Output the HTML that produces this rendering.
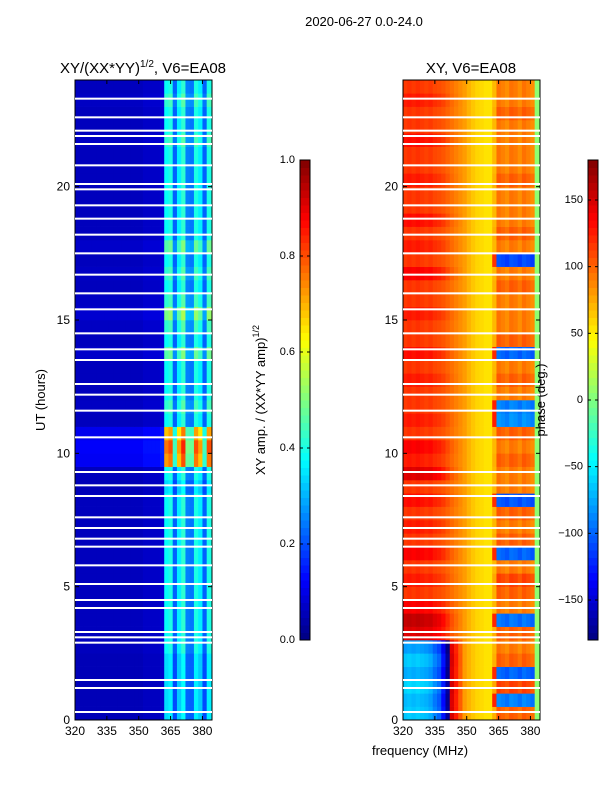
<!DOCTYPE html>
<html><head><meta charset="utf-8">
<style>
body{margin:0;background:#fff;}
svg text{font-family:"Liberation Sans","DejaVu Sans",sans-serif;}
</style></head>
<body>
<svg id="fig" width="600" height="800" xmlns="http://www.w3.org/2000/svg">
<rect width="600" height="800" fill="#fff"/>
<text x="364" y="26" font-size="13" text-anchor="middle">2020-06-27 0.0-24.0</text>
<text x="143" y="73" font-size="15" text-anchor="middle">XY/(XX*YY)<tspan font-size="10" dy="-6">1/2</tspan><tspan dy="6">, V6=EA08</tspan></text>
<text x="471" y="73" font-size="15" text-anchor="middle">XY, V6=EA08</text>
<g id="left"></g>
<g id="right"></g>
<g id="axes"></g>
<text transform="translate(45,400) rotate(-90)" font-size="13" text-anchor="middle">UT (hours)</text>
<text x="420" y="755" font-size="13" text-anchor="middle">frequency (MHz)</text>
<text transform="translate(265,400) rotate(-90)" font-size="13" text-anchor="middle">XY amp. / (XX*YY amp)<tspan font-size="9" dy="-6">1/2</tspan></text>
<text transform="translate(545,400) rotate(-90)" font-size="13" text-anchor="middle">phase (deg.)</text>
</svg>
<script>
const freqs=[320,322,324,326,328,330,332,334,336,338,340,342,344,346,348,350,352,354,356,358,360,362,364,366,368,370,372,374,376,378,380,382];
const colAmp=[0.06,0.06,0.06,0.06,0.06,0.06,0.06,0.06,0.06,0.06,0.06,0.06,0.06,0.06,0.06,0.06,0.07,0.07,0.07,0.07,0.08,0.38,0.4,0.22,0.36,0.42,0.25,0.24,0.4,0.36,0.22,0.4];
const rowAmp=[0.9,0.9,0.9,0.9,0.9,1,1,1,1,1,1,1,1,1,1,1,1,0.9,1,1.9,2.0,1.8,1,1.1,1,1,1,1.2,1,1.1,1.3,1.1,1,1.1,1,1.2,1,1,1,1,1,1,1,1.1,1,1,1.1,1];
const colPhase=[115,118,115,118,115,112,115,110,108,105,100,95,90,85,80,72,65,60,58,55,55,70,95,90,85,95,92,85,95,90,85,5];
const leftSens=[1,1,1,1,1,1,0.95,0.9,0.85,0.7,0.5,0.3,0.2,0.1,0,0,0,0,0,0,0,0,0,0,0,0,0,0,0,0,0,0];
const bandSens=[0,0,0,0,0,0,0,0,0,0,0,0,0,0,0,0,0,0,0,0,0,0.3,1,1,1,1,1,1,1,1,1,0];
const leftShift=[180,175,185,170,180,165,30,40,20,0,10,0,20,0,10,0,15,0,30,10,20,0,10,0,0,10,0,15,0,0,10,0,0,20,0,10,0,15,0,0,10,0,0,15,0,0,10,0];
const bandShift=[10,180,20,170,10,0,10,175,0,10,20,0,170,10,0,10,165,0,0,10,0,10,185,180,0,10,0,170,10,0,0,0,10,0,160,0,10,0,0,0,10,0,0,0,0,10,0,0];
const gaps=[0.3,1.2,1.5,2.9,3.1,3.3,4.2,4.5,5.1,5.8,6.5,6.8,7.2,7.6,8.4,8.8,9.3,10.6,11.6,12.2,12.6,13.5,13.9,14.5,15.4,16.0,16.7,17.5,18.2,18.8,19.3,19.9,20.1,20.8,21.6,21.9,22.1,22.6,23.3];
const ampTicks=[0,0.2,0.4,0.6,0.8,1.0];
const phaseTicks=[-150,-100,-50,0,50,100,150];
const xTicks=[320,335,350,365,380];
const yTicks=[0,5,10,15,20];

const NS="http://www.w3.org/2000/svg";
const svg=document.getElementById('fig');
const L={x0:75,x1:212}, R={x0:403,x1:540}, Y0=720, Y1=80;
function xs(p,f){return p.x0+(f-320)/(384.5-320)*(p.x1-p.x0);}
function ys(h){return Y0-(h/24)*(Y0-Y1);}
function jet(v){v=Math.max(0,Math.min(1,v));
 const r=Math.max(0,Math.min(1,1.5-Math.abs(4*v-3))),g=Math.max(0,Math.min(1,1.5-Math.abs(4*v-2))),b=Math.max(0,Math.min(1,1.5-Math.abs(4*v-1)));
 return `rgb(${Math.round(r*255)},${Math.round(g*255)},${Math.round(b*255)})`;}
function el(t,a,parent){const e=document.createElementNS(NS,t);for(const k in a)e.setAttribute(k,a[k]);(parent||svg).appendChild(e);return e;}
const gl=document.getElementById('left'),gr=document.getElementById('right');
for(let r=0;r<rowAmp.length;r++){
 const h0=r*0.5,h1=h0+0.5;
 for(let c=0;c<freqs.length;c++){
  const f0=freqs[c],f1=(c+1<freqs.length?freqs[c+1]:384.5);
  const a=colAmp[c]*rowAmp[r];
  const e1=el('rect',{x:xs(L,f0),y:ys(h1),width:xs(L,f1)-xs(L,f0)+0.3,height:ys(h0)-ys(h1)+0.3,fill:jet(a)},gl);
  
  
  let p=colPhase[c]+leftShift[r]*leftSens[c]+bandShift[r]*bandSens[c];
  p=((p+180)%360+360)%360-180;
  const e2=el('rect',{x:xs(R,f0),y:ys(h1),width:xs(R,f1)-xs(R,f0)+0.3,height:ys(h0)-ys(h1)+0.3,fill:jet((p+180)/360)},gr);
  
  
 }
}
gaps.forEach(g=>{[L,R].forEach(p=>{
 const e=el('rect',{x:p.x0,y:ys(g)-1,width:p.x1-p.x0,height:2,fill:'#fff'});
 
 
});});
const ax=document.getElementById('axes');
[L,R].forEach(p=>{
 el('rect',{x:p.x0,y:Y1,width:p.x1-p.x0,height:Y0-Y1,fill:'none',stroke:'#000','stroke-width':1},ax);
 xTicks.forEach(t=>{const x=xs(p,t);
  el('line',{x1:x,x2:x,y1:Y0,y2:Y0-4,stroke:'#000'},ax);
  el('line',{x1:x,x2:x,y1:Y1,y2:Y1+4,stroke:'#000'},ax);
  const tx=el('text',{x:x,y:Y0+15,'font-size':12,'text-anchor':'middle'},svg);tx.textContent=t;
  
  
 });
 yTicks.forEach(t=>{const y=ys(t);
  el('line',{x1:p.x0,x2:p.x0+4,y1:y,y2:y,stroke:'#000'},ax);
  el('line',{x1:p.x1,x2:p.x1-4,y1:y,y2:y,stroke:'#000'},ax);
  const tx=el('text',{x:p.x0-5,y:y+4,'font-size':12,'text-anchor':'end'},svg);tx.textContent=t;
  
  
 });
});
function colorbar(x,ticks,lo,hi,name){
 const g=el('g',{});
 
 
 const n=64;
 for(let i=0;i<n;i++){el('rect',{x:x,y:640-(i+1)*480/n,width:10,height:480/n+0.5,fill:jet((i+0.5)/n)},g);}
 el('rect',{x:x,y:160,width:10,height:480,fill:'none',stroke:'#000'},g);
 ticks.forEach(t=>{const y=640-(t-lo)/(hi-lo)*480;
  el('line',{x1:x,x2:x+3,y1:y,y2:y,stroke:'#000'},g);el('line',{x1:x+10,x2:x+7,y1:y,y2:y,stroke:'#000'},g);
  const tx=el('text',{x:x-5,y:y+3,'font-size':11,'text-anchor':'end'},g);
  tx.textContent=(lo===0?t.toFixed(1):(t<0?'\u2212'+(-t):t));
  
  
 });
}
colorbar(300,ampTicks,0,1,'amp-colorbar');
colorbar(588,phaseTicks,-180,180,'phase-colorbar');
</script>
</body></html>
